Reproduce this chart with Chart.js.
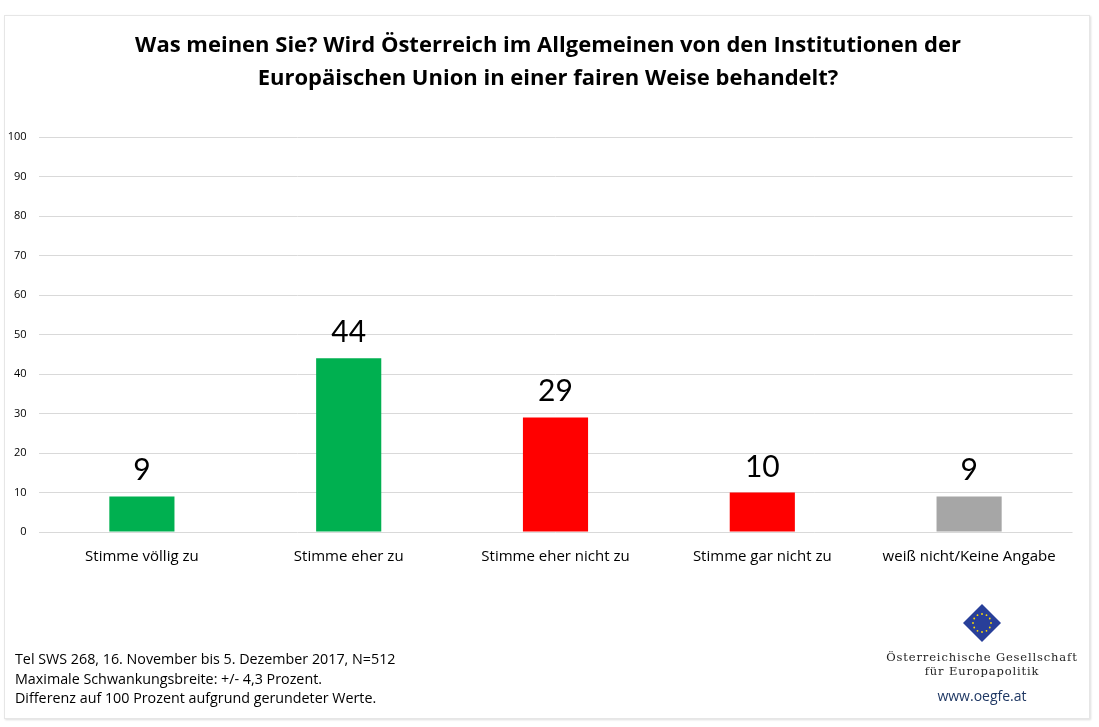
<!DOCTYPE html>
<html>
<head>
<meta charset="utf-8">
<script src="https://cdn.jsdelivr.net/npm/chart.js@4"></script>
<style>
  body { margin: 0; background: #fff; font-family: "Open Sans", Lato, sans-serif; }
  #frame { position: absolute; left: 4px; top: 15px; width: 1084px; height: 702px;
           border: 1px solid #e6e6e6; box-shadow: 1px 1px 2px #ddd; }
  #wrap { position: absolute; left: 0; top: 0; width: 1099px; height: 727px; }
  h1 { position: absolute; left: 0; top: 27px; width: 1096px; margin: 0; text-align: center;
       font-size: 22px; line-height: 33px; font-weight: bold; color: #000; }
  #notes { position: absolute; left: 15px; top: 649px; font-size: 14.3px; line-height: 19.5px; color: #000; }
  #logo { position: absolute; left: 862px; top: 603px; width: 240px; text-align: center; }
  #logo .org { font-family: "DejaVu Serif", "Liberation Serif", serif; font-size: 11.5px; letter-spacing: 0.85px; line-height: 14px; color: #222; margin-top: 2px; }
  #logo .url { font-size: 14px; color: #1f3864; margin-top: 8px; }
</style>
</head>
<body>
<div id="frame"></div>
<div id="wrap"><canvas id="chart"></canvas></div>
<h1>Was meinen Sie? Wird Österreich im Allgemeinen von den Institutionen der<br>Europäischen Union in einer fairen Weise behandelt?</h1>
<div id="notes">Tel SWS 268, 16. November bis 5. Dezember 2017, N=512<br>Maximale Schwankungsbreite: +/- 4,3 Prozent.<br>Differenz auf 100 Prozent aufgrund gerundeter Werte.</div>
<div id="logo">
  <svg width="40" height="40" viewBox="0 0 40 40">
    <polygon points="20,1 39,20 20,39 1,20" fill="#283f99"/>
    <g fill="#ffdd00" id="stars"></g>
  </svg>
  <div class="org">Österreichische Gesellschaft<br>für Europapolitik</div>
  <div class="url">www.oegfe.at</div>
</div>
<script>
const categories = ['Stimme völlig zu', 'Stimme eher zu', 'Stimme eher nicht zu', 'Stimme gar nicht zu', 'weiß nicht/Keine Angabe'];
const values = [9, 44, 29, 10, 9];
const barColors = ['#00b050', '#00b050', '#ff0000', '#ff0000', '#a6a6a6'];

// EU Sterne im Logo
const starsG = document.getElementById('stars');
for (let i = 0; i < 12; i++) {
  const a = i * Math.PI / 6;
  const c = document.createElementNS('http://www.w3.org/2000/svg', 'circle');
  c.setAttribute('cx', 20 + 9 * Math.cos(a));
  c.setAttribute('cy', 20 + 9 * Math.sin(a));
  c.setAttribute('r', 0.9);
  starsG.appendChild(c);
}

// Werte über den Balken
const valueLabels = {
  id: 'valueLabels',
  afterDatasetsDraw(chart) {
    const ctx = chart.ctx;
    const meta = chart.getDatasetMeta(0);
    ctx.save();
    ctx.font = '30px Lato, "Open Sans", sans-serif';
    ctx.fillStyle = '#000';
    ctx.textAlign = 'center';
    ctx.textBaseline = 'alphabetic';
    meta.data.forEach((bar, i) => {
      ctx.fillText(values[i], bar.x, bar.y - 16);
    });
    ctx.restore();
  }
};

new Chart('chart', {
  type: 'bar',
  data: {
    labels: categories,
    datasets: [{
      data: values,
      backgroundColor: barColors,
      barPercentage: 0.315,
      categoryPercentage: 1
    }]
  },
  options: {
    responsive: true,
    maintainAspectRatio: false,
    animation: false,
    layout: { padding: { left: 4, right: 26.5, top: 137, bottom: 153 } },
    plugins: { legend: { display: false }, tooltip: { enabled: false } },
    scales: {
      x: {
        grid: { display: false },
        border: { display: false },
        ticks: { color: '#000', font: { size: 15, family: '"Open Sans"' }, padding: 8, maxRotation: 0 }
      },
      y: {
        min: 0, max: 100,
        afterFit: (s) => { s.width = 34.5; },
        grid: { color: '#d9d9d9', drawTicks: false },
        border: { display: false },
        ticks: { stepSize: 10, color: '#000', font: { size: 11, family: '"Open Sans"' }, padding: 12 }
      }
    }
  },
  plugins: [valueLabels]
});
</script>
</body>
</html>
